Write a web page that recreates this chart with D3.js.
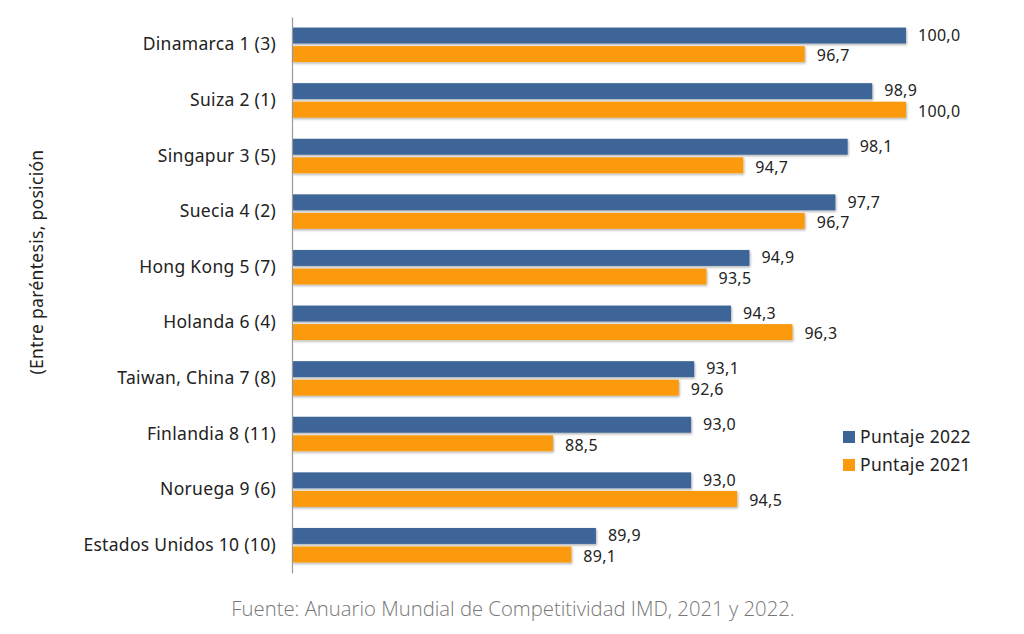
<!DOCTYPE html>
<html><head><meta charset="utf-8">
<script src="https://cdn.jsdelivr.net/npm/d3@7"></script>
<style>body{margin:0;background:#fff}svg{display:block}</style>
</head><body>
<svg id="c" width="1024" height="634"></svg>
<script>
const categories = ["Dinamarca 1 (3)","Suiza 2 (1)","Singapur 3 (5)","Suecia 4 (2)","Hong Kong 5 (7)","Holanda 6 (4)","Taiwan, China 7 (8)","Finlandia 8 (11)","Noruega 9 (6)","Estados Unidos 10 (10)"];
const puntaje2022 = [100.0, 98.9, 98.1, 97.7, 94.9, 94.3, 93.1, 93.0, 93.0, 89.9];
const puntaje2021 = [96.7, 100.0, 94.7, 96.7, 93.5, 96.3, 92.6, 88.5, 94.5, 89.1];
const seriesNames = ["Puntaje 2022","Puntaje 2021"];
const colors = ["#3c6597","#fb9a0b"];
const yTitle = "(Entre paréntesis, posición";
const source = "Fuente: Anuario Mundial de Competitividad IMD, 2021 y 2022.";

const svg = d3.select("#c");
const font = "'Noto Sans', 'DejaVu Sans', sans-serif";

const defs = svg.append("defs");
const f = defs.append("filter").attr("id","sh").attr("x","-5%").attr("y","-30%").attr("width","110%").attr("height","180%");
f.append("feDropShadow").attr("dx",1).attr("dy",1.5).attr("stdDeviation",1).attr("flood-color","#000").attr("flood-opacity",0.3);

const x = d3.scaleLinear().domain([80,100]).range([292,906]);
const y0 = d3.scaleBand().domain(categories).range([17,573]).paddingInner(0.38).paddingOuter(0.19);
const y1 = d3.scaleBand().domain(seriesNames).range([0,y0.bandwidth()]).paddingInner(0.14);

const data = categories.map((c,i)=>({c, vals:[puntaje2022[i], puntaje2021[i]]}));

const g = svg.append("g");
const groups = g.selectAll("g.grp").data(data).join("g").attr("transform",d=>`translate(0,${y0(d.c)})`);
groups.selectAll("rect").data(d=>d.vals.map((v,j)=>({v,s:seriesNames[j],j})))
  .join("rect")
  .attr("x",x(80)).attr("y",d=>y1(d.s)).attr("height",y1.bandwidth())
  .attr("width",d=>x(d.v)-x(80)).attr("fill",d=>colors[d.j]).attr("filter","url(#sh)");
groups.selectAll("text").data(d=>d.vals.map((v,j)=>({v,s:seriesNames[j],j})))
  .join("text")
  .attr("x",d=>x(d.v)+12).attr("y",d=>y1(d.s)+y1.bandwidth()/2+(d.j===0?1:3))
  .attr("dominant-baseline","middle")
  .attr("font-family",font).attr("font-size",16).attr("letter-spacing",0.3).attr("fill","#222")
  .text(d=>d3.format(".1f")(d.v).replace(".",","));

// y axis
const yAxis = d3.axisLeft(y0).tickSize(0).tickPadding(16);
const ya = svg.append("g").attr("transform",`translate(${x(80)},0)`).call(yAxis);
ya.select(".domain").attr("stroke","#999").attr("stroke-width",1.2);
ya.selectAll("text").attr("font-family",font).attr("font-size",17.5).attr("letter-spacing",0.3).attr("fill","#222");

// y title
svg.append("text").attr("transform","translate(43,262) rotate(-90)")
  .attr("text-anchor","middle").attr("font-family",font).attr("font-size",17.5).attr("letter-spacing",0.3).attr("fill","#222").text(yTitle);

// legend
const leg = svg.append("g").attr("transform","translate(843,437)");
seriesNames.forEach((s,i)=>{
  const r = leg.append("g").attr("transform",`translate(0,${i*28})`);
  r.append("rect").attr("x",0).attr("y",-6).attr("width",12).attr("height",12).attr("fill",colors[i]);
  r.append("text").attr("x",17).attr("y",1).attr("dominant-baseline","middle")
   .attr("font-family",font).attr("font-size",17.5).attr("letter-spacing",0.3).attr("fill","#222").text(s);
});

// source
svg.append("text").attr("x",513).attr("y",616).attr("text-anchor","middle")
  .attr("font-family","'Open Sans', sans-serif").attr("font-weight",300).attr("font-size",20.3).attr("fill","#777").text(source);
</script>
</body></html>
